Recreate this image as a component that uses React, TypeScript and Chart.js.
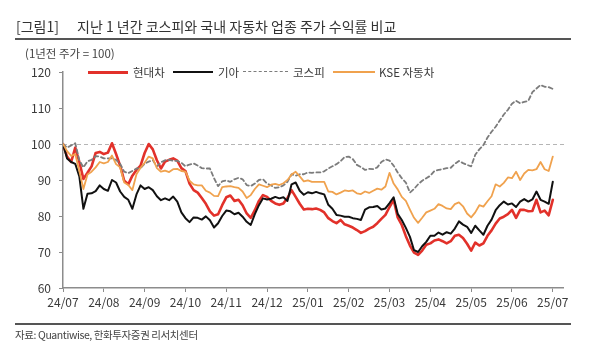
import React, { useEffect, useRef } from "react";
import { Chart, registerables } from "chart.js";

Chart.register(...registerables);

// Month tick labels (one every 10 samples)
const monthLabels = [
  "24/07", "24/08", "24/09", "24/10", "24/11", "24/12",
  "25/01", "25/02", "25/03", "25/04", "25/05", "25/06", "25/07",
];
const samplesPerMonth = 10;

// 현대차 (Hyundai)
const hyundai = [
  100, 96.5, 95, 99, 95, 90.3, 92, 93.8, 97.5, 97.8,
  97.2, 97.6, 100.2, 97.2, 94, 89.8, 88.8, 91.2, 92.8, 94,
  97.5, 100, 98.5, 95.5, 93.2, 95.1, 95.6, 96, 95.4, 93.3,
  92.5, 89, 87.2, 86.5, 85, 83.4, 81.3, 80.1, 80.5, 83,
  85.2, 85.7, 84.2, 84.5, 83, 80.7, 79.5, 81.6, 84.2, 85.8,
  85.3, 84.2, 83.5, 83.1, 83.5, 85, 87.2, 85.3, 83.4, 81.8,
  82, 81.9, 82.1, 81.7, 81, 79.4, 78.6, 78, 78.9, 77.7,
  77.3, 76.8, 76.1, 75.3, 75.8, 76.5, 77, 78, 79.2, 80.3,
  82.5, 84.5, 79.6, 77.5, 74.4, 71.8, 69.8, 69.2, 70.4, 72,
  72.4, 73.2, 73.5, 73, 72.4, 73, 74.5, 74.8, 73.9, 72.3,
  70.4, 72.6, 71.8, 72.4, 74.5, 76, 77.9, 79.3, 79.8, 80.5,
  81.7, 79.5, 81.7, 81.7, 81.3, 81.4, 84.5, 81, 81.5, 80.2,
  84.5,
];

// 기아 (Kia)
const kia = [
  100, 96, 95, 94.5, 91, 82, 86.2, 86.3, 86.9, 88.5,
  87.5, 87, 90, 89.3, 86.8, 85.3, 84.5, 82, 86, 88.5,
  87.5, 88, 87.2, 85.5, 84.4, 84.9, 84.4, 85.4, 84, 81,
  79.4, 78.3, 79.6, 79.5, 79, 79.9, 78.8, 76.8, 78, 80,
  81.5, 81.3, 80.5, 80.9, 79.8, 78.4, 77.5, 80.5, 83, 84.9,
  84.6, 84.8, 85.3, 84.9, 85.2, 84.2, 88.8, 89.3, 87, 85.9,
  86.6, 86.3, 86.7, 86.3, 86, 83.1, 82, 80.3, 80.1, 79.8,
  79.8, 79.4, 79.2, 78.9, 81.8, 82.4, 82.5, 82.8, 81.8, 82.1,
  83.6, 85.2, 80.6, 78.9, 76.7, 74.2, 70.5, 70, 71.6, 72.8,
  74.5, 74.5, 75.4, 74.8, 75.5, 75.1, 76.5, 78.5, 77.6, 77,
  75.3, 77.3, 76, 74.8, 77.3, 79, 81.6, 83, 84, 83.2,
  83.5, 82.5, 84, 84.7, 84, 84.6, 86.8, 84.5, 84, 83.4,
  89.5,
];

// 코스피 (KOSPI)
const kospi = [
  100, 99, 99.6, 100.2, 95.5, 93.5, 95.2, 95.6, 96.6, 96.5,
  96, 96, 96, 95.6, 94.5, 92.3, 91.9, 92.5, 93.2, 93.3,
  94.5, 95.1, 95.5, 93.8, 94.9, 95.5, 95.6, 95.3, 95.3, 94.8,
  93.8, 94.3, 94.6, 94, 93.3, 93.2, 93.2, 90.5, 88.3, 89.6,
  89.9, 89.5, 90.2, 90.6, 90.2, 88.6, 88.3, 89, 90, 90.2,
  89, 88.5, 87.8, 88, 88.5, 89.5, 91.6, 91.2, 91.6, 91.6,
  92.1, 92, 92.1, 92.1, 92.4, 93.2, 93.8, 94.4, 95.2, 96.4,
  96.5, 95.8, 94.2, 93.6, 92.8, 93.1, 93, 93.5, 95, 95.7,
  95.4, 94, 92.1, 90.5, 89.3, 86.5, 87.5, 88.8, 89.8, 90.5,
  91.2, 92.5, 92.8, 93, 93.3, 93.4, 94.5, 95.3, 94.7, 94.2,
  93.8, 97, 98.5, 99.7, 101.8, 103.4, 104.8, 106.5, 108.2, 109.5,
  111.2, 112, 111.3, 111.7, 112, 114.4, 115.4, 116.4, 115.9, 115.8,
  115.3,
];

// KSE 자동차 (KSE auto sector)
const kseAuto = [
  100, 98, 96.7, 97.2, 92.5, 87.5, 91.5, 92.3, 93.5, 95,
  94.6, 95, 96.8, 94.4, 93.5, 89.3, 88.6, 87.2, 91.6, 93.4,
  94.8, 96.5, 96, 93.3, 92.3, 92.6, 92.2, 93, 93.1, 92.5,
  92.3, 89.8, 88.8, 88.5, 88.5, 87, 86.5, 85.6, 85.5, 88,
  88.2, 88.3, 88, 87.8, 86.8, 85, 85.8, 87.5, 88.8, 88.4,
  88, 88.7, 88.9, 88.6, 89.1, 90, 91.5, 92.3, 91, 89.6,
  89.9, 89.5, 89.5, 89.5, 89.5, 86.8, 86.7, 86, 86.5, 87.1,
  86.9, 87.1, 86.3, 86.1, 86.8, 86.4, 87, 87.6, 87.3, 88.2,
  92, 89, 87.4, 85.3, 84.2, 81.8, 79.5, 78.1, 79.5, 81,
  81.5, 82, 83.3, 82.8, 82.1, 81.9, 83.3, 83.8, 82.7, 80.7,
  79.6, 81, 83, 82.6, 84.1, 85.5, 88.8, 88.2, 89.2, 90.7,
  90.5, 92.3, 90, 91.8, 92.8, 92.7, 93, 95, 93, 92.5,
  96.5,
];

const baseline = 100;

const FONT = "'Noto Sans CJK KR', 'Noto Sans', sans-serif";

export default function App() {
  const canvasRef = useRef<HTMLCanvasElement | null>(null);

  useEffect(() => {
    document.body.style.margin = "0";
    const canvas = canvasRef.current;
    if (!canvas) return;

    const toPoints = (arr: number[]) => arr.map((v, i) => ({ x: i, y: v }));

    const baselinePlugin = {
      id: "baseline100",
      beforeDatasetsDraw(chart: any) {
        const { ctx, chartArea, scales } = chart;
        const y = Math.round(scales.y.getPixelForValue(baseline)) + 0.5;
        ctx.save();
        ctx.strokeStyle = "#b5b5b5";
        ctx.lineWidth = 1;
        ctx.setLineDash([4, 3]);
        ctx.beginPath();
        ctx.moveTo(chartArea.left, y);
        ctx.lineTo(chartArea.right + 2, y);
        ctx.stroke();
        ctx.restore();
      },
    };

    const chart = new Chart(canvas, {
      type: "line",
      data: {
        datasets: [
          {
            label: "현대차",
            data: toPoints(hyundai),
            borderColor: "#e2312a",
            borderWidth: 2.6,
            pointRadius: 0,
            order: 3,
          },
          {
            label: "기아",
            data: toPoints(kia),
            borderColor: "#111111",
            borderWidth: 2,
            pointRadius: 0,
            order: 2,
          },
          {
            label: "코스피",
            data: toPoints(kospi),
            borderColor: "#7c7c7c",
            borderWidth: 1.8,
            borderDash: [4, 3],
            pointRadius: 0,
            order: 1,
          },
          {
            label: "KSE 자동차",
            data: toPoints(kseAuto),
            borderColor: "#f0a24e",
            borderWidth: 1.8,
            pointRadius: 0,
            order: 0,
          },
        ],
      },
      options: {
        animation: false,
        responsive: false,
        maintainAspectRatio: false,
        layout: { padding: { top: 72, right: 37, bottom: 0, left: 0 } },
        plugins: {
          legend: { display: false },
          tooltip: { enabled: false },
          title: { display: false },
        },
        elements: { line: { tension: 0, borderJoinStyle: "round", borderCapStyle: "round" } },
        scales: {
          x: {
            type: "linear",
            min: 0,
            max: 122.5,
            afterBuildTicks: (scale: any) => {
              scale.ticks = monthLabels.map((_, k) => ({ value: k * samplesPerMonth }));
            },
            afterFit: (scale: any) => {
              scale.height = 64;
            },
            ticks: {
              autoSkip: false,
              maxRotation: 0,
              padding: 3,
              color: "#3a3a3a",
              font: { family: FONT, size: 12 },
              callback: (value: any) => {
                const k = Math.round(Number(value) / samplesPerMonth);
                return monthLabels[k] ?? "";
              },
            },
            grid: {
              drawOnChartArea: false,
              drawTicks: true,
              tickLength: 4,
              color: "#8c8c8c",
              lineWidth: 1,
            },
            border: { display: true, color: "#8c8c8c", width: 1.5 },
          },
          y: {
            min: 60,
            max: 120,
            afterFit: (scale: any) => {
              scale.width = 63;
            },
            ticks: {
              stepSize: 10,
              padding: 8,
              color: "#3a3a3a",
              font: { family: FONT, size: 12 },
            },
            grid: {
              drawOnChartArea: false,
              drawTicks: true,
              tickLength: 4,
              color: "#8c8c8c",
              lineWidth: 1,
            },
            border: { display: true, color: "#8c8c8c", width: 1.5 },
          },
        },
      },
      plugins: [baselinePlugin],
    });

    return () => chart.destroy();
  }, []);

  const text: React.CSSProperties = {
    position: "absolute",
    fontFamily: FONT,
    whiteSpace: "nowrap",
    color: "#3a3a3a",
  };

  const legendItem = (left: number, width: number, style: React.CSSProperties) => (
    <div style={{ position: "absolute", left, top: 72, width, ...style }} />
  );

  return (
    <div style={{ position: "relative", width: 600, height: 352, background: "#fff", overflow: "hidden" }}>
      <canvas ref={canvasRef} width={600} height={352} style={{ position: "absolute", left: 0, top: 0 }} />
      <div style={{ ...text, left: 16, top: 17, fontSize: 14, lineHeight: "18px", color: "#333" }}>
        [그림1]<span style={{ display: "inline-block", width: 18 }} />지난 1 년간 코스피와 국내 자동차 업종 주가 수익률 비교
      </div>
      <div style={{ position: "absolute", left: 15, top: 38, width: 556, height: 2, background: "#555" }} />
      <div style={{ ...text, left: 25, top: 46, fontSize: 11.5, lineHeight: "14px", color: "#444" }}>
        (1년전 주가 = 100)
      </div>

      {legendItem(88, 40, { height: 3, marginTop: -1.5, background: "#e2312a" })}
      <div style={{ ...text, left: 133, top: 65, fontSize: 11.5, lineHeight: "14px" }}>현대차</div>
      {legendItem(173, 40, { height: 2, marginTop: -1, background: "#111" })}
      <div style={{ ...text, left: 218, top: 65, fontSize: 11.5, lineHeight: "14px" }}>기아</div>
      {legendItem(243, 45, { height: 0, borderTop: "1.5px dashed #7c7c7c", marginTop: -1 })}
      <div style={{ ...text, left: 293, top: 65, fontSize: 11.5, lineHeight: "14px" }}>코스피</div>
      {legendItem(333, 42, { height: 2, marginTop: -1, background: "#f0a24e" })}
      <div style={{ ...text, left: 379, top: 65, fontSize: 11.5, lineHeight: "14px" }}>KSE 자동차</div>

      <div style={{ position: "absolute", left: 15, top: 323, width: 556, height: 2, background: "#555" }} />
      <div style={{ ...text, left: 15, top: 328, fontSize: 10.5, lineHeight: "14px", color: "#444", letterSpacing: -0.4 }}>
        자료: Quantiwise, 한화투자증권 리서치센터
      </div>
    </div>
  );
}
